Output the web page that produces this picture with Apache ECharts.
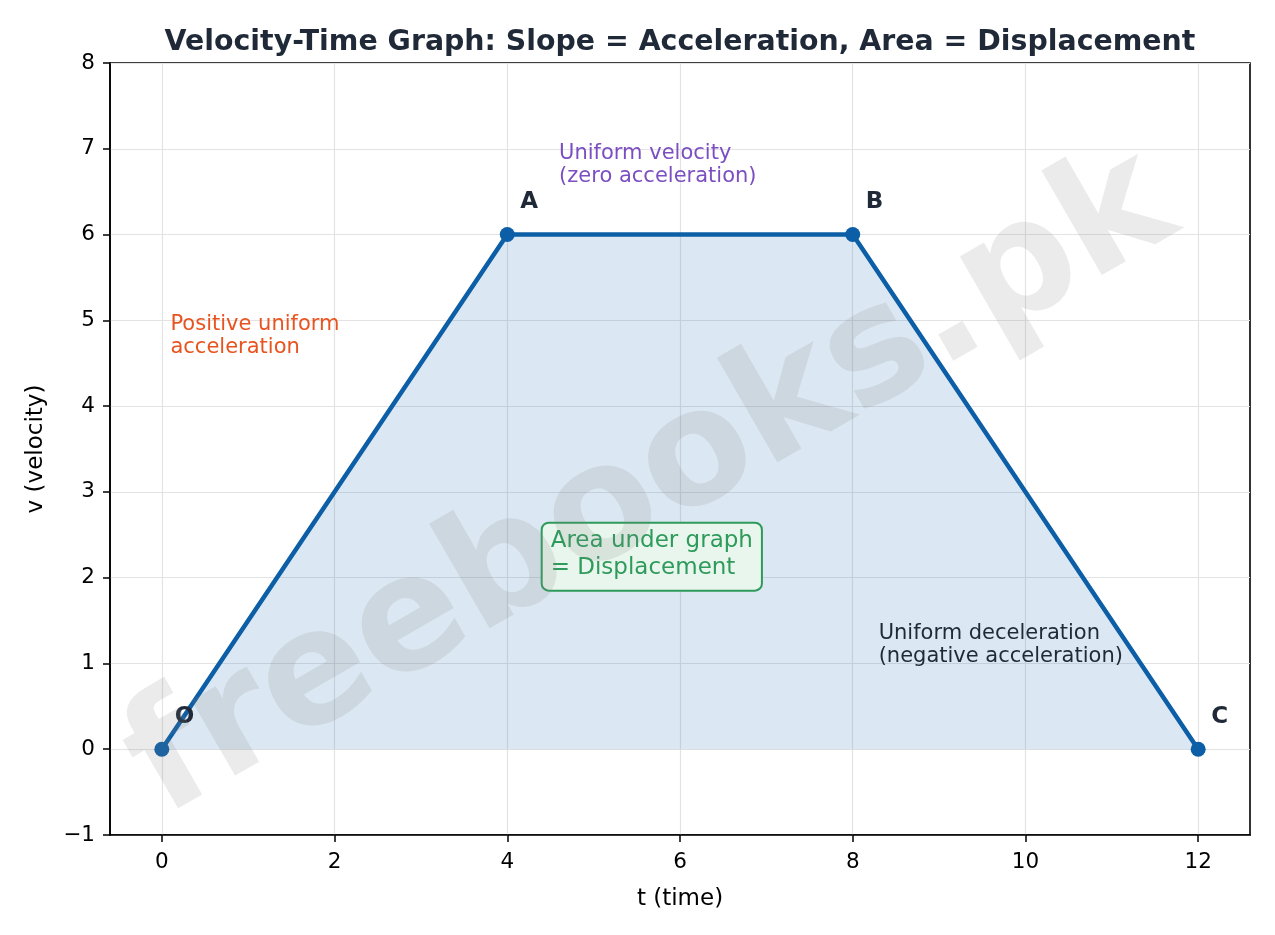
<!DOCTYPE html>
<html>
<head>
<meta charset="utf-8">
<script src="https://cdn.jsdelivr.net/npm/echarts@6/dist/echarts.min.js"></script>
<style>
  html, body { margin: 0; padding: 0; background: #fff; }
  #chart { width: 1275px; height: 935px; }
</style>
</head>
<body>
<div id="chart"></div>
<script>
// data
const times = [0, 4, 8, 12];
const velocities = [0, 6, 6, 0];
const pointNames = ['O', 'A', 'B', 'C'];
const xTicks = [0, 2, 4, 6, 8, 10, 12];

// notes: text, anchor (top-left) in data units
const noteTexts = ['Positive uniform\nacceleration', 'Uniform velocity\n(zero acceleration)', 'Uniform deceleration\n(negative acceleration)'];
const noteX = [0.1, 4.6, 8.3];
const noteY = [5.08, 7.08, 1.48];
const noteColors = ['#e8541f', '#7b4fc2', '#1f2937'];
const areaNote = 'Area under graph\n= Displacement';
const areaNoteAt = [4.41, 2.63];

const FONT = 'DejaVu Sans';
const lineColor = '#0c5fa6';

const chart = echarts.init(document.getElementById('chart'));

const lineData = times.map((t, i) => [t, velocities[i]]);
const pointLabels = times.map((t, i) => ({
  value: [t + 0.15, velocities[i] + 0.38],
  label: { formatter: pointNames[i] }
}));
const notes = noteTexts.map((txt, i) => ({
  value: [noteX[i], noteY[i]],
  label: { formatter: txt, color: noteColors[i] }
}));

const option = {
  animation: false,
  backgroundColor: '#fff',
  title: {
    text: 'Velocity-Time Graph: Slope = Acceleration, Area = Displacement',
    left: 675,
    top: 24,
    textAlign: 'center',
    textStyle: { fontFamily: FONT, fontSize: 28.4, fontWeight: 'bold', color: '#1f2937' }
  },
  grid: {
    left: 110, right: 25, top: 63, bottom: 100,
    show: true, borderColor: '#000', borderWidth: 1.6, backgroundColor: 'transparent'
  },
  xAxis: {
    type: 'value',
    min: -0.6,
    max: 12.6,
    name: 't (time)',
    nameLocation: 'middle',
    nameGap: 53,
    nameTextStyle: { fontFamily: FONT, fontSize: 23, color: '#000' },
    axisLine: { onZero: false, lineStyle: { color: '#000', width: 1.6 } },
    axisTick: { show: true, inside: false, length: 7, customValues: xTicks, lineStyle: { color: '#000', width: 1.5 } },
    axisLabel: { customValues: xTicks, margin: 16, fontFamily: FONT, fontSize: 21.5, color: '#000' },
    splitLine: { show: true, lineStyle: { color: '#e3e3e3', width: 1.2 } }
  },
  yAxis: {
    type: 'value',
    min: -1,
    max: 8,
    interval: 1,
    name: 'v (velocity)',
    nameLocation: 'middle',
    nameGap: 62,
    nameTextStyle: { fontFamily: FONT, fontSize: 23, color: '#000' },
    axisLine: { show: true, onZero: false, lineStyle: { color: '#000', width: 1.6 } },
    axisTick: { show: true, inside: false, length: 7, lineStyle: { color: '#000', width: 1.5 } },
    axisLabel: {
      margin: 15, fontFamily: FONT, fontSize: 21.5, color: '#000', padding: [7, 0, 0, 0],
      formatter: v => (v < 0 ? '\u2212' + Math.abs(v) : String(v))
    },
    splitLine: { show: true, lineStyle: { color: '#e3e3e3', width: 1.2 } }
  },
  series: [
    {
      name: 'velocity',
      type: 'line',
      data: lineData,
      symbol: 'circle',
      symbolSize: 15,
      itemStyle: { color: lineColor },
      lineStyle: { color: lineColor, width: 4.5 },
      areaStyle: { color: 'rgba(12,95,166,0.15)', opacity: 1, origin: 0 },
      z: 3
    },
    {
      name: 'points',
      type: 'scatter',
      data: pointLabels,
      symbolSize: 0,
      silent: true,
      itemStyle: { opacity: 1 },
      label: {
        show: true, position: [0, 0], align: 'left', verticalAlign: 'middle',
        fontFamily: FONT, fontSize: 23, fontWeight: 'bold', color: '#1f2937'
      },
      z: 5
    },
    {
      name: 'notes',
      type: 'scatter',
      data: notes,
      symbolSize: 0,
      silent: true,
      itemStyle: { opacity: 1 },
      label: {
        show: true, position: [0, 0], align: 'left', verticalAlign: 'top',
        fontFamily: FONT, fontSize: 21, lineHeight: 23
      },
      z: 5
    },
    {
      name: 'area note',
      type: 'scatter',
      data: [{ value: areaNoteAt, label: { formatter: areaNote } }],
      symbolSize: 0,
      silent: true,
      itemStyle: { opacity: 1 },
      label: {
        show: true, position: [0, 0], align: 'left', verticalAlign: 'top',
        fontFamily: FONT, fontSize: 23, lineHeight: 27, color: '#2e9b5b',
        backgroundColor: '#e9f6ed', borderColor: '#2e9b5b', borderWidth: 2,
        borderRadius: 6, padding: [4, 8, 8, 8]
      },
      z: 5
    }
  ],
  graphic: [
    {
      type: 'text',
      x: 652,
      y: 487,
      rotation: 30 * Math.PI / 180,
      z: 100,
      silent: true,
      style: {
        text: 'freebooks.pk',
        fontFamily: FONT,
        fontSize: 159,
        fontWeight: 'bold',
        fill: 'rgba(128,128,128,0.16)',
        align: 'center',
        verticalAlign: 'middle'
      }
    }
  ]
};

chart.setOption(option);
</script>
</body>
</html>
